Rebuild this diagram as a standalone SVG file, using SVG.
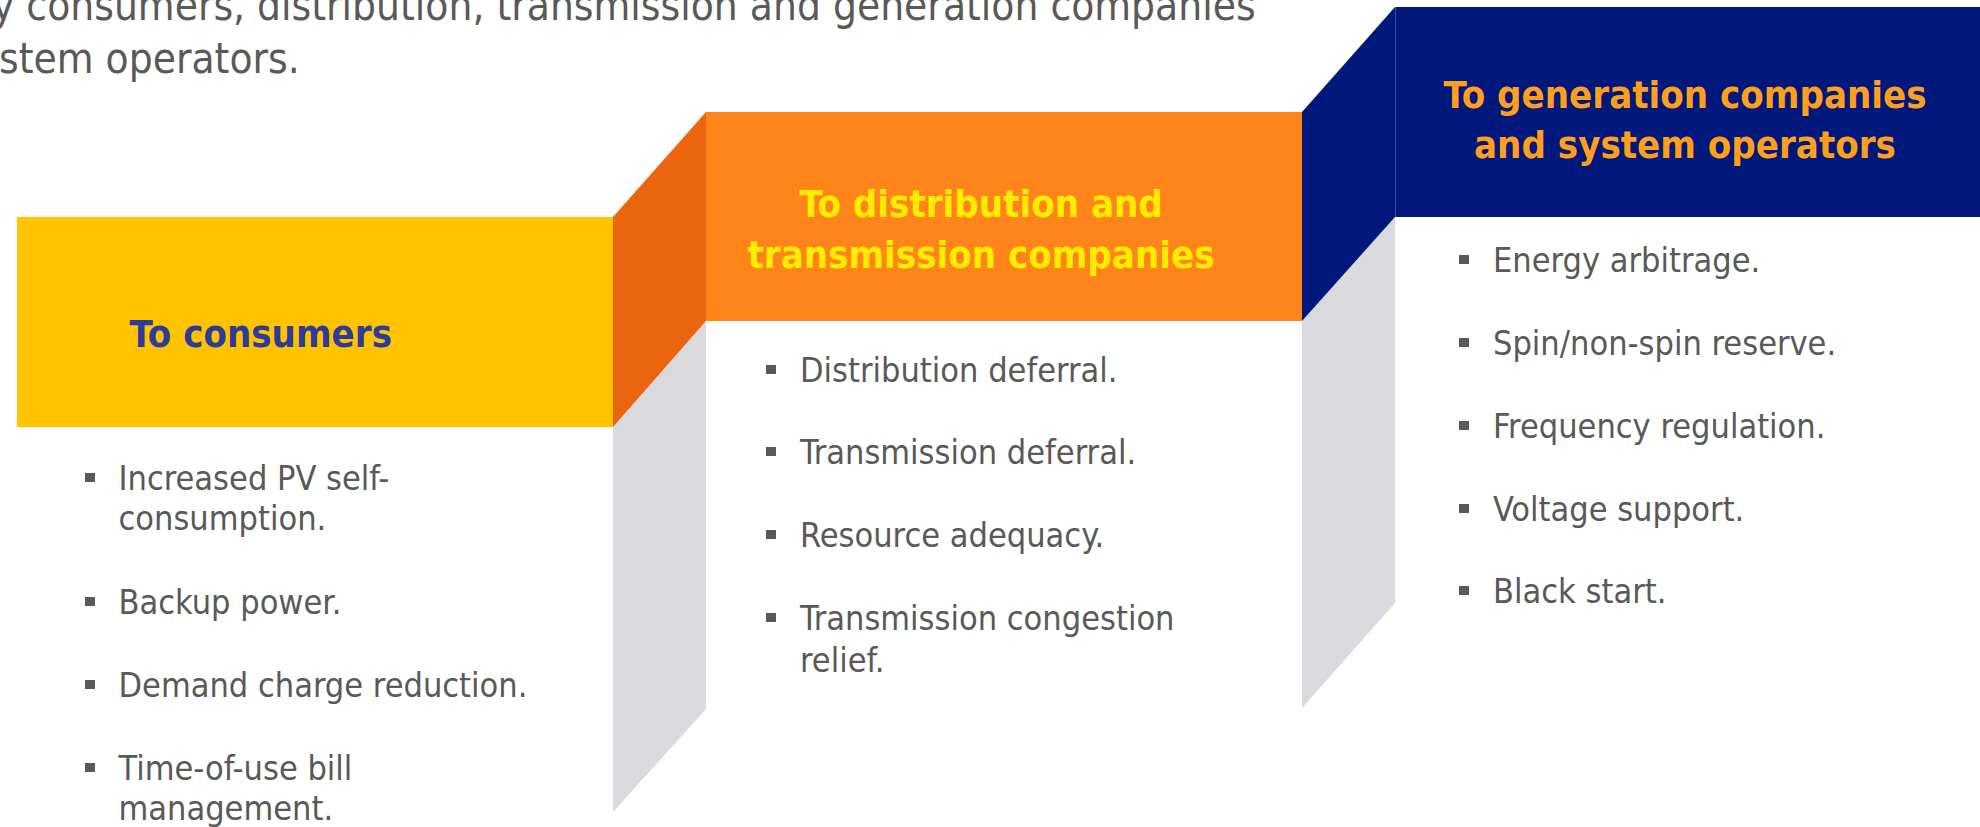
<svg xmlns="http://www.w3.org/2000/svg" width="1980" height="827" viewBox="0 0 1980 827">
  <style>
    .intro { font-family: "DejaVu Sans Condensed", "DejaVu Sans", sans-serif; font-stretch: condensed; font-size: 42px; fill: #595959; }
    .item { font-family: "DejaVu Sans Condensed", "DejaVu Sans", sans-serif; font-stretch: condensed; font-size: 34px; fill: #595959; }
    .head { font-family: "DejaVu Sans Condensed", "DejaVu Sans", sans-serif; font-stretch: condensed; font-size: 38px; font-weight: bold; }
    .bullet { fill: #595959; }
    .riser-gray { fill: #D9D9DE; }
  </style>

  <rect width="1980" height="827" fill="#FFFFFF"/>

  <!-- introductory sentence, running off the top-left edge -->
  <g id="intro">
    <text class="intro" x="-8" y="20">y consumers, distribution, transmission and generation companies</text>
    <text class="intro" x="-1" y="73">stem operators.</text>
  </g>

  <!-- slanted risers joining one step to the next -->
  <g id="connectors">
    <polygon class="riser-gray" points="613,427 706,321 706,709 613,812"/>
    <polygon fill="#EA650E" points="613,217 706,112 706,321 613,427"/>
    <polygon class="riser-gray" points="1302,321 1395,217 1395,603 1302,708"/>
    <polygon fill="#00177C" points="1302,112 1395,7 1395,217 1302,321"/>
  </g>

  <!-- step 1 -->
  <g id="step-consumers">
    <rect x="17" y="217" width="596" height="210" fill="#FFC300"/>
    <text class="head" x="129.5" y="347" fill="#2E3B9A">To consumers</text>
    <rect class="bullet" x="85" y="473" width="10" height="9"/>
    <text class="item" x="118.5" y="490">Increased PV self-</text>
    <text class="item" x="118.5" y="530">consumption.</text>
    <rect class="bullet" x="85" y="597" width="10" height="9"/>
    <text class="item" x="118.5" y="614">Backup power.</text>
    <rect class="bullet" x="85" y="680" width="10" height="9"/>
    <text class="item" x="118.5" y="697">Demand charge reduction.</text>
    <rect class="bullet" x="85" y="763" width="10" height="9"/>
    <text class="item" x="118.5" y="780">Time-of-use bill</text>
    <text class="item" x="118.5" y="820">management.</text>
  </g>

  <!-- step 2 -->
  <g id="step-distribution">
    <rect x="706" y="112" width="596" height="209" fill="#FF8419"/>
    <text class="head" x="981" y="217" fill="#FFED00" text-anchor="middle">To distribution and</text>
    <text class="head" x="981" y="268" fill="#FFED00" text-anchor="middle">transmission companies</text>
    <rect class="bullet" x="766" y="365" width="10" height="9"/>
    <text class="item" x="800" y="382">Distribution deferral.</text>
    <rect class="bullet" x="766" y="447" width="10" height="9"/>
    <text class="item" x="800" y="464">Transmission deferral.</text>
    <rect class="bullet" x="766" y="530" width="10" height="9"/>
    <text class="item" x="800" y="547">Resource adequacy.</text>
    <rect class="bullet" x="766" y="613" width="10" height="9"/>
    <text class="item" x="800" y="630">Transmission congestion</text>
    <text class="item" x="800" y="672">relief.</text>
  </g>

  <!-- step 3 -->
  <g id="step-generation">
    <rect x="1395" y="7" width="585" height="210" fill="#00177C"/>
    <line x1="1395.5" y1="7" x2="1395.5" y2="217" stroke="#3A4C9E" stroke-width="1"/>
    <text class="head" x="1685" y="108" fill="#FF9F1C" text-anchor="middle">To generation companies</text>
    <text class="head" x="1685" y="158" fill="#FF9F1C" text-anchor="middle">and system operators</text>
    <rect class="bullet" x="1459" y="255" width="10" height="9"/>
    <text class="item" x="1493" y="272">Energy arbitrage.</text>
    <rect class="bullet" x="1459" y="338" width="10" height="9"/>
    <text class="item" x="1493" y="355">Spin/non-spin reserve.</text>
    <rect class="bullet" x="1459" y="421" width="10" height="9"/>
    <text class="item" x="1493" y="438">Frequency regulation.</text>
    <rect class="bullet" x="1459" y="504" width="10" height="9"/>
    <text class="item" x="1493" y="521">Voltage support.</text>
    <rect class="bullet" x="1459" y="586" width="10" height="9"/>
    <text class="item" x="1493" y="603">Black start.</text>
  </g>
</svg>
